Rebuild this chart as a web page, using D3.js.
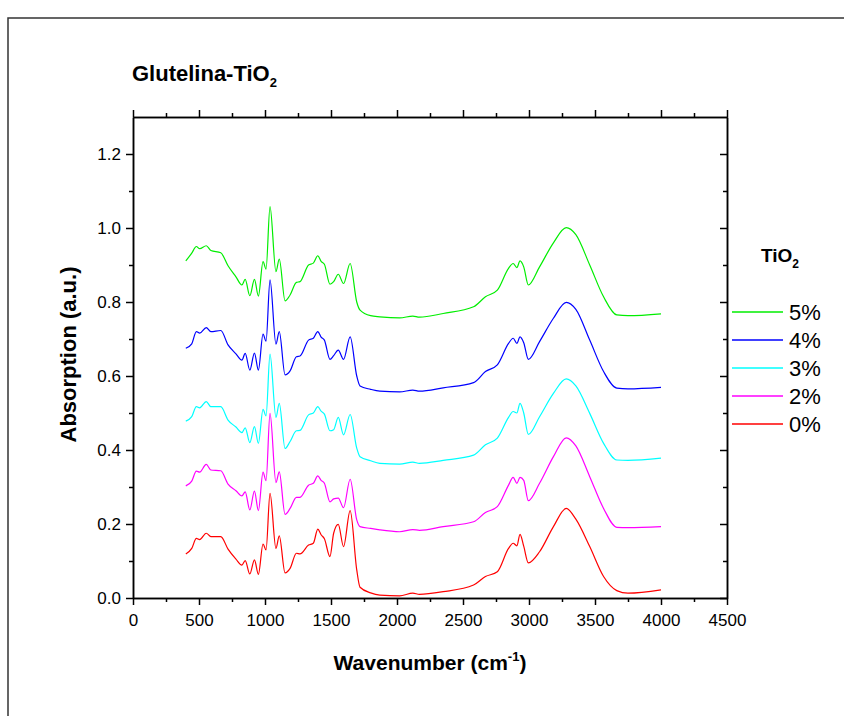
<!DOCTYPE html>
<html>
<head>
<meta charset="utf-8">
<script src="https://cdn.jsdelivr.net/npm/d3@7"></script>
<style>
  body { margin: 0; background: #fff; }
  text { font-family: Arial, "Liberation Sans", sans-serif; fill: #000; }
</style>
</head>
<body>
<div id="chart"></div>
<script>
// wavenumber grid (cm-1), shared by every spectrum
const wavenumber = [400, 445, 480, 505, 555, 590, 665, 720, 780, 825, 850, 885, 920, 950, 985, 1008, 1038, 1083, 1108, 1152,
    1190, 1238, 1265, 1330, 1366, 1400, 1425, 1450, 1492, 1520, 1555, 1595, 1645, 1695, 1720, 1800, 1870, 2020, 2120, 2170,
    2350, 2580, 2670, 2760, 2845, 2880, 2908, 2932, 2960, 2995, 3080, 3185, 3282, 3355, 3460, 3565, 3665, 3750, 4000];

const abs0 = [0.119, 0.134, 0.161, 0.158, 0.175, 0.166, 0.166, 0.132, 0.105, 0.089, 0.101, 0.065, 0.103, 0.064, 0.146, 0.130, 0.283, 0.134, 0.168, 0.068,
    0.080, 0.121, 0.119, 0.143, 0.148, 0.186, 0.171, 0.160, 0.112, 0.175, 0.199, 0.139, 0.236, 0.076, 0.029, 0.014, 0.008, 0.006, 0.013, 0.010,
    0.017, 0.035, 0.058, 0.071, 0.134, 0.148, 0.141, 0.172, 0.140, 0.095, 0.125, 0.193, 0.242, 0.213, 0.139, 0.058, 0.020, 0.013, 0.022];

const abs2 = [0.303, 0.316, 0.343, 0.340, 0.361, 0.346, 0.344, 0.308, 0.290, 0.276, 0.287, 0.238, 0.289, 0.236, 0.340, 0.317, 0.499, 0.312, 0.341, 0.226,
    0.242, 0.272, 0.272, 0.305, 0.310, 0.330, 0.318, 0.310, 0.260, 0.268, 0.270, 0.244, 0.321, 0.211, 0.193, 0.188, 0.184, 0.179, 0.185, 0.183,
    0.193, 0.206, 0.231, 0.247, 0.305, 0.326, 0.310, 0.326, 0.318, 0.263, 0.310, 0.382, 0.433, 0.411, 0.328, 0.242, 0.191, 0.190, 0.193];

const abs3 = [0.478, 0.490, 0.517, 0.514, 0.531, 0.517, 0.517, 0.481, 0.462, 0.447, 0.460, 0.420, 0.463, 0.418, 0.510, 0.492, 0.659, 0.488, 0.526, 0.404,
    0.423, 0.452, 0.453, 0.495, 0.500, 0.517, 0.505, 0.497, 0.452, 0.455, 0.488, 0.441, 0.496, 0.405, 0.382, 0.371, 0.364, 0.362, 0.367, 0.364,
    0.372, 0.386, 0.414, 0.432, 0.488, 0.504, 0.500, 0.526, 0.500, 0.442, 0.490, 0.553, 0.592, 0.573, 0.499, 0.418, 0.373, 0.372, 0.378];

const abs4 = [0.675, 0.687, 0.720, 0.716, 0.731, 0.720, 0.723, 0.684, 0.660, 0.643, 0.661, 0.616, 0.662, 0.616, 0.713, 0.694, 0.860, 0.686, 0.720, 0.603,
    0.614, 0.652, 0.654, 0.697, 0.702, 0.720, 0.705, 0.697, 0.645, 0.655, 0.670, 0.645, 0.706, 0.600, 0.573, 0.564, 0.559, 0.557, 0.562, 0.559,
    0.568, 0.582, 0.612, 0.630, 0.688, 0.702, 0.688, 0.706, 0.690, 0.645, 0.693, 0.756, 0.799, 0.780, 0.697, 0.612, 0.567, 0.565, 0.569];

const abs5 = [0.911, 0.932, 0.950, 0.944, 0.952, 0.939, 0.933, 0.898, 0.868, 0.846, 0.861, 0.817, 0.861, 0.816, 0.909, 0.889, 1.058, 0.882, 0.916, 0.803,
    0.819, 0.853, 0.855, 0.900, 0.905, 0.925, 0.910, 0.902, 0.848, 0.855, 0.875, 0.850, 0.904, 0.800, 0.778, 0.763, 0.760, 0.757, 0.762, 0.759,
    0.769, 0.787, 0.814, 0.832, 0.891, 0.904, 0.893, 0.911, 0.895, 0.846, 0.895, 0.960, 1.001, 0.982, 0.900, 0.814, 0.765, 0.763, 0.768];

const seriesNames = ["5%", "4%", "3%", "2%", "0%"];
const seriesValues = [abs5, abs4, abs3, abs2, abs0];
const seriesColors = ["#00ee00", "#0000ff", "#00ffff", "#ff00ff", "#ff0000"];

const xTicks = [0, 500, 1000, 1500, 2000, 2500, 3000, 3500, 4000, 4500];
const xMinor = [250, 750, 1250, 1750, 2250, 2750, 3250, 3750, 4250];
const yTicks = [0.0, 0.2, 0.4, 0.6, 0.8, 1.0, 1.2];
const yMinor = [0.1, 0.3, 0.5, 0.7, 0.9, 1.1];

class SpectraChart {
    constructor() {
        this.width = 844;
        this.height = 716;
        this.margin = {top: 117, right: 117, bottom: 118, left: 133};
        this.svg = d3.select("#chart").append("svg")
            .attr("width", this.width)
            .attr("height", this.height);
        this.x = d3.scaleLinear().domain([0, 4500])
            .range([this.margin.left, this.width - this.margin.right]);
        this.y = d3.scaleLinear().domain([0, 1.3])
            .range([this.height - this.margin.bottom, this.margin.top]);
    }

    draw() {
        let svg = this.svg, x = this.x, y = this.y;
        let x0 = x.range()[0], x1 = x.range()[1];
        let y0 = y.range()[0], y1 = y.range()[1];

        // outer frame (only top and left edges show)
        svg.append("path")
            .attr("d", "M8," + this.height + "V18H" + this.width)
            .attr("fill", "none").attr("stroke", "#333").attr("stroke-width", 1.5);

        svg.append("text")
            .attr("x", 132).attr("y", 81)
            .style("font-size", "22px").style("font-weight", "bold")
            .text("Glutelina-TiO")
            .append("tspan").attr("dy", 6).style("font-size", "13px").text("2");

        // spectra
        let line = d3.line()
            .x((d, i) => x(wavenumber[i]))
            .y(d => y(d))
            .curve(d3.curveMonotoneX);
        svg.append("g").selectAll("path")
            .data(seriesValues)
            .enter().append("path")
            .attr("d", d => line(d))
            .attr("fill", "none")
            .attr("stroke", (d, i) => seriesColors[i])
            .attr("stroke-width", 1.2);

        // axes
        let fmtY = d3.format(".1f");
        let fmtX = d3.format("d");
        let axes = [
            {ax: d3.axisBottom(x).tickValues(xTicks).tickSize(7).tickPadding(9).tickFormat(fmtX), t: [0, y0]},
            {ax: d3.axisBottom(x).tickValues(xMinor).tickSize(4).tickFormat(""), t: [0, y0]},
            {ax: d3.axisBottom(x).tickValues(xTicks).tickSize(-7).tickFormat(""), t: [0, y1]},
            {ax: d3.axisBottom(x).tickValues(xMinor).tickSize(-4).tickFormat(""), t: [0, y1]},
            {ax: d3.axisLeft(y).tickValues(yTicks).tickSize(7).tickPadding(5).tickFormat(fmtY), t: [x0, 0]},
            {ax: d3.axisLeft(y).tickValues(yMinor).tickSize(4).tickFormat(""), t: [x0, 0]},
            {ax: d3.axisLeft(y).tickValues(yTicks).tickSize(7).tickFormat(""), t: [x1, 0]},
            {ax: d3.axisLeft(y).tickValues(yMinor).tickSize(4).tickFormat(""), t: [x1, 0]}
        ];
        axes.forEach(function(a) {
            let g = svg.append("g")
                .attr("transform", "translate(" + a.t[0] + "," + a.t[1] + ")")
                .call(a.ax.tickSizeOuter(0));
            g.select(".domain").attr("stroke", "#000").attr("stroke-width", 1.5);
            g.selectAll(".tick line").attr("stroke", "#000").attr("stroke-width", 1.5);
            g.selectAll(".tick text")
                .style("font-family", "Arial, 'Liberation Sans', sans-serif")
                .style("font-size", "17px").attr("fill", "#000");
        });

        // axis titles
        let xt = svg.append("text")
            .attr("x", (x0 + x1) / 2).attr("y", 670)
            .attr("text-anchor", "middle")
            .style("font-size", "21px").style("font-weight", "bold")
            .text("Wavenumber (cm");
        xt.append("tspan").attr("dy", -9).style("font-size", "13px").text("-1");
        xt.append("tspan").attr("dy", 9).text(")");

        svg.append("text")
            .attr("transform", "translate(76," + ((y0 + y1) / 2 - 3) + ") rotate(-90)")
            .attr("text-anchor", "middle")
            .style("font-size", "22px").style("font-weight", "bold")
            .text("Absorption (a.u.)");

        // legend
        let lg = svg.append("g");
        lg.append("text")
            .attr("x", 761).attr("y", 262)
            .style("font-size", "19px").style("font-weight", "bold")
            .text("TiO")
            .append("tspan").attr("dy", 6).style("font-size", "12px").text("2");
        let rows = lg.selectAll("g.row").data(seriesNames).enter()
            .append("g").attr("class", "row")
            .attr("transform", (d, i) => "translate(0," + (312 + i * 28) + ")");
        rows.append("line")
            .attr("x1", 732).attr("x2", 783)
            .attr("stroke", (d, i) => seriesColors[i])
            .attr("stroke-width", 1.5);
        rows.append("text")
            .attr("x", 789).attr("y", 8)
            .style("font-size", "22px")
            .text(d => d);
    }
}

let chart = new SpectraChart();
chart.draw();
</script>
</body>
</html>
